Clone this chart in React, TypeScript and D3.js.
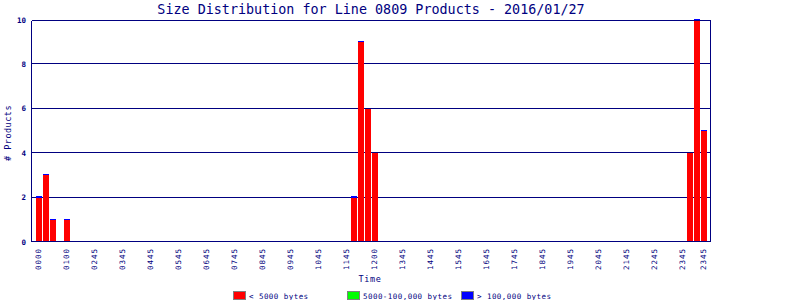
import React from "react";
import * as d3 from "d3";

const TITLE = "Size Distribution for Line 0809 Products - 2016/01/27";
const SLOT_COUNT = 96;
const slotIndex = d3.range(SLOT_COUNT);

// time slots (15 min) that have products
const dataSlots = [0, 1, 2, 4, 45, 46, 47, 48, 93, 94, 95];
const smallCounts = [2, 3, 1, 1, 2, 9, 6, 4, 4, 10, 5];
const mediumCounts = [0, 0, 0, 0, 0, 0, 0, 0, 0, 0, 0];
const largeCounts = [0.05, 0.05, 0.05, 0.05, 0.05, 0.05, 0, 0, 0, 0.05, 0.05];

const tickSlots = [0, 4, 8, 12, 16, 20, 24, 28, 32, 36, 40, 44, 48, 52, 56, 60, 64, 68, 72, 76, 80, 84, 88, 92, 95];
const tickLabels = ["0000", "0100", "0245", "0345", "0445", "0545", "0645", "0745", "0845", "0945", "1045", "1145", "1200", "1345", "1445", "1545", "1645", "1745", "1845", "1945", "2045", "2145", "2245", "2345", "2345"];
const yTicks = [0, 2, 4, 6, 8, 10];

const seriesKeys = ["small", "medium", "large"];
const seriesNames = ["< 5000 bytes", "5000-100,000 bytes", "> 100,000 bytes"];
const seriesColors = ["#ff0000", "#00ff00", "#0000ff"];

const NAVY = "#000080";
const MONO = "'DejaVu Sans Mono', monospace";

export default function App() {
  const W = 800, H = 300;
  const left = 31.5, right = 710.5, top = 20.5, bottom = 241.5;

  const x = d3.scaleBand<number>().domain(slotIndex).range([35, 707]).padding(0);
  const y = d3.scaleLinear().domain([0, 10]).range([242, 20]);

  const rows = dataSlots.map((s, i) => ({
    slot: s,
    small: smallCounts[i],
    medium: mediumCounts[i],
    large: largeCounts[i],
  }));
  const stacked = d3.stack<any>().keys(seriesKeys)(rows);

  const legendX = [233, 347, 461];

  return (
    <svg width={W} height={H} style={{ position: "absolute", left: 0, top: 0, background: "#fff" }}>
      <text x={371} y={14} textAnchor="middle" fontFamily={MONO} fontSize={13.4} fill={NAVY}>
        {TITLE}
      </text>

      {/* gridlines */}
      {yTicks.filter((t) => t > 0 && t < 10).map((t) => (
        <line key={t} x1={left} x2={right} y1={Math.round(y(t)) + 0.5 - 1} y2={Math.round(y(t)) + 0.5 - 1} stroke={NAVY} strokeWidth={1} shapeRendering="crispEdges" />
      ))}

      {/* bars */}
      {stacked.map((layer, li) => (
        <g key={layer.key} fill={seriesColors[li]}>
          {layer.map((d: any, i: number) => {
            const h = y(d[0]) - y(d[1]);
            if (h <= 0) return null;
            return (
              <rect key={i} x={(x(d.data.slot) as number) + 1} width={x.bandwidth() - 1} y={y(d[1])} height={Math.max(h, 1)} shapeRendering="crispEdges" />
            );
          })}
        </g>
      ))}

      {/* frame */}
      <line x1={left} x2={left} y1={top} y2={bottom + 0.5} stroke={NAVY} shapeRendering="crispEdges" />
      <line x1={right} x2={right} y1={top} y2={bottom} stroke={NAVY} shapeRendering="crispEdges" />
      <line x1={left} x2={right} y1={top} y2={top} stroke={NAVY} shapeRendering="crispEdges" />
      <line x1={left} x2={right + 0.5} y1={bottom} y2={bottom} stroke={NAVY} shapeRendering="crispEdges" />

      {/* y tick labels */}
      {yTicks.map((t) => (
        <text key={t} x={26} y={y(t) + 2.5} textAnchor="end" fontFamily={MONO} fontSize={7.5} fontWeight="bold" fill={NAVY}>
          {t}
        </text>
      ))}

      {/* x tick labels */}
      {tickSlots.map((s, i) => {
        const cx = (x(s) as number) + 1 + (x.bandwidth() - 1) / 2 - 1;
        return (
          <text key={i} transform={`translate(${cx + 2.5},248) rotate(-90)`} textAnchor="end" fontFamily={MONO} fontSize={7.5} letterSpacing={1} fill={NAVY}>
            {tickLabels[i]}
          </text>
        );
      })}

      {/* axis titles */}
      <text x={370} y={282} textAnchor="middle" fontFamily={MONO} fontSize={8.5} letterSpacing={0.6} fill={NAVY}>
        Time
      </text>
      <text transform="translate(11,133) rotate(-90)" textAnchor="middle" fontFamily={MONO} fontSize={8.5} letterSpacing={0.5} fill={NAVY}>
        # Products
      </text>

      {/* legend */}
      {seriesNames.map((n, i) => (
        <g key={n}>
          <rect x={legendX[i] + 0.5} y={291.5} width={12} height={8} fill={seriesColors[i]} stroke="#808080" shapeRendering="crispEdges" />
          <text x={legendX[i] + 16} y={299} fontFamily={MONO} fontSize={7.5} letterSpacing={0.45} fill={NAVY}>
            {n}
          </text>
        </g>
      ))}
    </svg>
  );
}
